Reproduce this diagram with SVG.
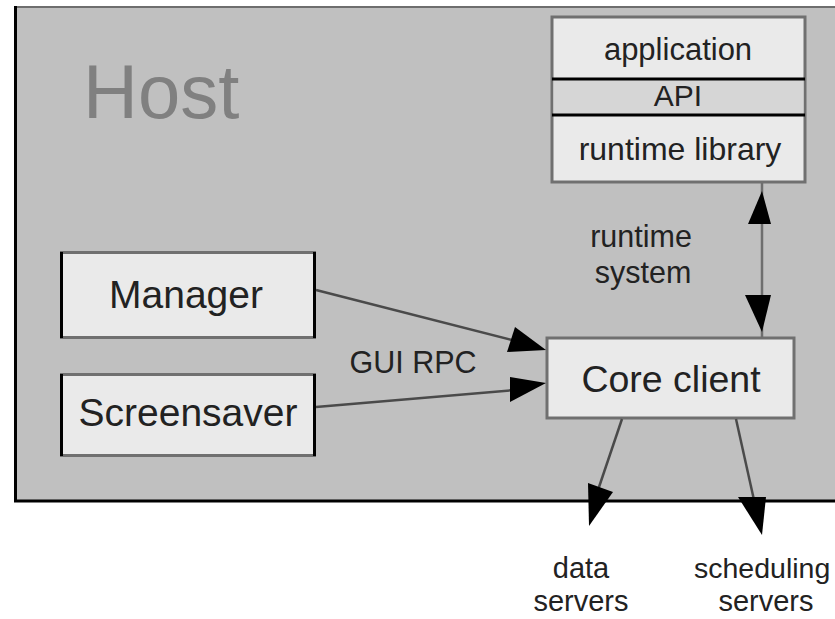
<svg xmlns="http://www.w3.org/2000/svg" width="835" height="619" viewBox="0 0 835 619">
<style>
text{font-family:"Liberation Sans",Arial,sans-serif;fill:#222}
.box{fill:#eaeaea;stroke:#707070;stroke-width:3}
.blk{stroke:#000;stroke-width:3}
.ln{stroke:#4a4a4a;stroke-width:2.5;fill:none}
.ah{fill:#000}
</style>
<rect width="835" height="619" fill="#fff"/>
<g id="host">
<rect x="15" y="7" width="830" height="494" fill="#c0c0c0" stroke="#6e6e6e" stroke-width="2"/>
<line class="blk" x1="15.5" y1="6" x2="15.5" y2="502"/>
<line class="blk" x1="14" y1="501" x2="835" y2="501"/>
<text x="83" y="118" font-size="76" style="fill:#808080">Host</text>
</g>
<g id="app">
<rect class="box" x="552" y="17" width="253" height="165"/>
<rect x="553.5" y="79" width="250" height="36" fill="#d6d6d6"/>
<line class="blk" x1="552" y1="79" x2="805" y2="79"/>
<line class="blk" x1="552" y1="115" x2="805" y2="115"/>
<text x="678" y="60" font-size="31" text-anchor="middle">application</text>
<text x="678" y="106" font-size="30" text-anchor="middle">API</text>
<text x="680" y="160" font-size="32" text-anchor="middle">runtime library</text>
</g>
<g id="manager">
<rect class="box" x="61.5" y="252.5" width="253" height="85"/>
<line class="blk" x1="61.5" y1="252" x2="61.5" y2="338"/>
<line class="blk" x1="314.5" y1="252" x2="314.5" y2="338"/>
<text x="186" y="308" font-size="39" text-anchor="middle">Manager</text>
</g>
<g id="screensaver">
<rect class="box" x="61.5" y="374.5" width="253" height="81"/>
<line class="blk" x1="61.5" y1="374" x2="61.5" y2="456"/>
<line class="blk" x1="314.5" y1="374" x2="314.5" y2="456"/>
<text x="188" y="426" font-size="39" text-anchor="middle">Screensaver</text>
</g>
<g id="core">
<rect class="box" x="547" y="338" width="247" height="80"/>
<text x="671" y="392" font-size="37.5" text-anchor="middle">Core client</text>
</g>
<g id="connectors">
<line x1="762" y1="183" x2="762" y2="338" stroke="#6e6e6e" stroke-width="2.5"/>
<polygon class="ah" points="762,191 771,224 748,224"/>
<polygon class="ah" points="745,295 771,295 762,332"/>
<line class="ln" x1="316" y1="290" x2="520" y2="342"/>
<polygon class="ah" points="515,327 507,352 546,350"/>
<line class="ln" x1="316" y1="407" x2="515" y2="390"/>
<polygon class="ah" points="510,377 510,402 546,383"/>
<line class="ln" x1="622" y1="419" x2="598" y2="490"/>
<polygon class="ah" points="588,483 613,492 589,526"/>
<line class="ln" x1="736" y1="419" x2="754" y2="500"/>
<polygon class="ah" points="738,497 766,497 762,535"/>
</g>
<g id="labels">
<text x="641" y="247" font-size="30.5" text-anchor="middle">runtime</text>
<text x="643" y="283" font-size="30.5" text-anchor="middle">system</text>
<text x="413" y="373" font-size="30.5" text-anchor="middle">GUI RPC</text>
<text x="581" y="578" font-size="29" text-anchor="middle">data</text>
<text x="581" y="611" font-size="29" text-anchor="middle">servers</text>
<text x="694" y="578" font-size="28.5">scheduling</text>
<text x="766" y="611" font-size="29" text-anchor="middle">servers</text>
</g>
</svg>
